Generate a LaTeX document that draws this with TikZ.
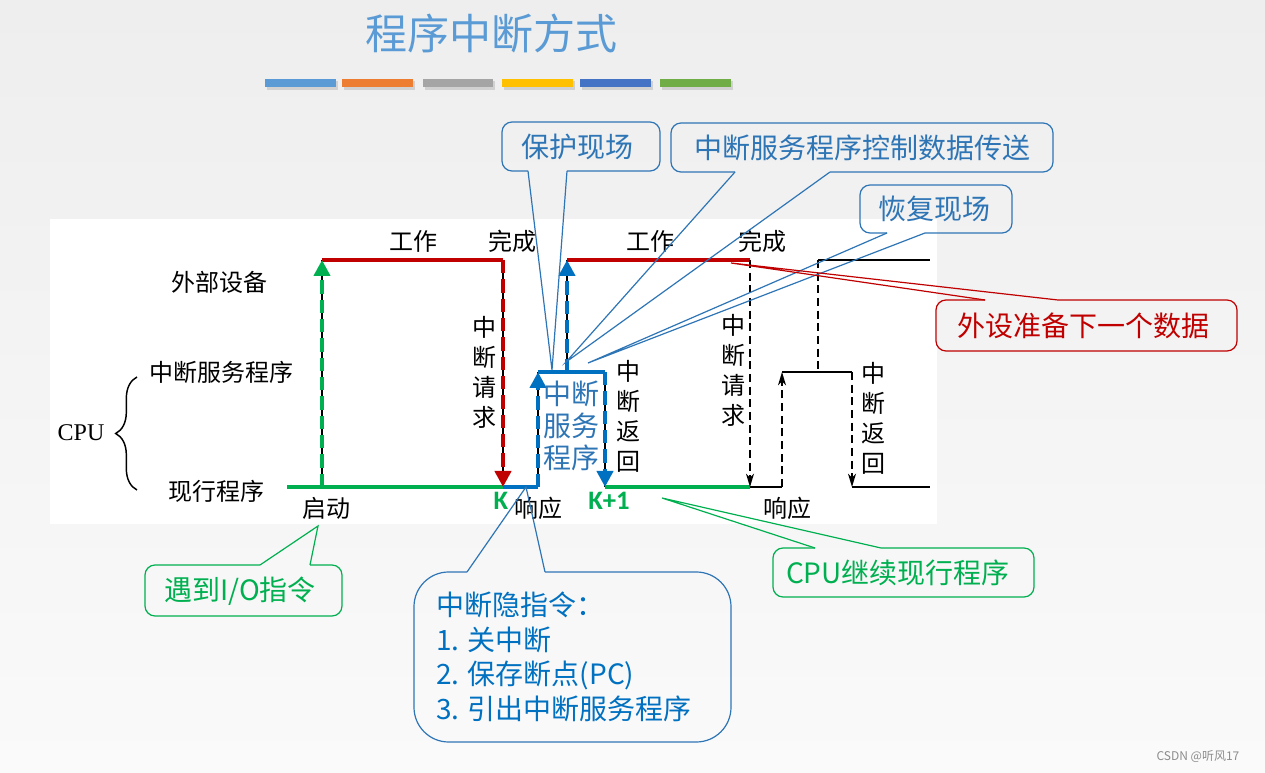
\documentclass[tikz,border=0pt]{standalone}
\usepackage{fontspec}
\setmainfont{Noto Sans CJK SC}
\newfontfamily\timesf{Liberation Serif}
\newfontfamily\calf{Carlito}
\usetikzlibrary{arrows.meta,decorations.pathreplacing}
\definecolor{tblue}{HTML}{5B9BD5}
\definecolor{dblue}{HTML}{0070C0}
\definecolor{cblue}{HTML}{2E75B6}
\definecolor{dred}{HTML}{C00000}
\definecolor{dgreen}{HTML}{00B050}
\definecolor{barA}{HTML}{5B9BD5}
\definecolor{barB}{HTML}{ED7D31}
\definecolor{barC}{HTML}{A5A5A5}
\definecolor{barD}{HTML}{FFC000}
\definecolor{barE}{HTML}{4472C4}
\definecolor{barF}{HTML}{70AD47}
\definecolor{bgtop}{HTML}{EEEEEE}
\definecolor{bgbot}{HTML}{FAFAFA}
\begin{document}
\begin{tikzpicture}[x=0.75pt,y=-0.75pt,
  lbl/.style={inner sep=0pt, font=\fontsize{18}{21}\selectfont},
  vlbl/.style={inner sep=0pt, align=center, font=\fontsize{18}{22.5}\selectfont},
  thk/.style={line width=3pt},
  thkdash/.style={line width=3.4pt, dash pattern=on 10pt off 4.5pt},
  blk/.style={line width=1.1pt, black},
  blkdash/.style={line width=1.1pt, black, dash pattern=on 6pt off 3.5pt},
  under/.style={line width=0.8pt, black},
  bigtip/.style={-{Triangle[width=12pt,length=12pt]}},
  smalltip/.style={-{Stealth[width=6pt,length=10pt,inset=3pt]}},
  co/.style={line width=0.9pt},
  cotext/.style={inner sep=0pt, font=\fontsize{21}{25}\selectfont}
]
\useasboundingbox (0,0) rectangle (1265,773);
\shade[top color=bgtop, bottom color=bgbot] (0,0) rectangle (1265,773);
\fill[white] (50,219) rectangle (937,524);

% title and bars
\node[inner sep=0pt, text=tblue, font=\fontsize{31.5}{36}\selectfont] (title) at (491,34) {程序中断方式};
\foreach \a/\b/\c in {265/336/barA, 342/413/barB, 423/493/barC, 502/573/barD, 580/651/barE, 660/731/barF}{
  \fill[black, opacity=0.12] (\a+2,81) rectangle (\b+2,90);
  \fill[\c] (\a,79) rectangle (\b,87);
}

% coordinates
\coordinate (gs) at (287,487);
\coordinate (st) at (322,487);
\coordinate (K) at (503,487);
\coordinate (wt1) at (322,260);
\coordinate (dn1) at (503,260);
\coordinate (rs1) at (538,487);
\coordinate (is1) at (538,372);
\coordinate (ie1) at (605,372);
\coordinate (K1) at (605,487);
\coordinate (up2) at (567,372);
\coordinate (wt2) at (567,260);
\coordinate (dn2) at (750,260);
\coordinate (g2e) at (750,487);
\coordinate (bb1) at (782,487);
\coordinate (bb1t) at (782,372);
\coordinate (bb2t) at (852,372);
\coordinate (bb2) at (852,487);
\coordinate (be) at (930,487);
\coordinate (tt1) at (818,260);
\coordinate (tt2) at (930,260);
\coordinate (tm) at (818,372);

% thin black lines underneath
\draw[under] (st) -- (wt1);
\draw[under] (dn1) -- (K);
\draw[under] (rs1) -- (is1);
\draw[under] (ie1) -- (K1);
\draw[under] (up2) -- (wt2);

% coloured lines
\draw[thk, dgreen] (gs) -- (K);
\draw[thk, dred] (wt1) -- (dn1);
\draw[thkdash, dgreen, bigtip] (st) -- (wt1);
\draw[thkdash, dred, bigtip] (dn1) -- (K);
\draw[thk, dblue] (K) -- (rs1);
\draw[thkdash, dblue, bigtip] (rs1) -- (is1);
\draw[thk, dblue] (is1) -- (ie1);
\draw[thkdash, dblue, bigtip] (ie1) -- (K1);
\draw[thkdash, dblue, bigtip] (up2) -- (wt2);
\draw[thk, dred] (wt2) -- (dn2);
\draw[thk, dgreen] (K1) -- (g2e);

% black lines
\draw[blkdash, smalltip] (dn2) -- (g2e);
\draw[blk] (g2e) -- (bb1);
\draw[blkdash, smalltip] (bb1) -- (bb1t);
\draw[blk] (bb1t) -- (bb2t);
\draw[blkdash, smalltip] (bb2t) -- (bb2);
\draw[blk] (bb2) -- (be);
\draw[blk] (tt1) -- (tt2);
\draw[blkdash] (tt1) -- (tm);

% labels
\node[lbl] (gz1) at (413,241) {工作};
\node[lbl] (wc1) at (512,241) {完成};
\node[lbl] (gz2) at (650,241) {工作};
\node[lbl] (wc2) at (762,241) {完成};
\node[lbl] (wbsb) at (219,282) {外部设备};
\node[lbl] (zdfw) at (221,372) {中断服务程序};
\node[lbl] (xxcx) at (216,491) {现行程序};
\node[lbl, font=\timesf\fontsize{18}{21}\selectfont] (cpu) at (81,433) {CPU};
\node[lbl] (qd) at (326,508) {启动};
\node[lbl] (xy1) at (538,508) {响应};
\node[lbl] (xy2) at (787,508) {响应};
\node[inner sep=0pt, text=dgreen, font=\calf\bfseries\fontsize{20}{24}\selectfont] (klab) at (501,501) {K};
\node[inner sep=0pt, text=dgreen, font=\calf\bfseries\fontsize{20}{24}\selectfont] (k1lab) at (609,501) {K+1};
\node[vlbl] (v1) at (484,372) {中\\断\\请\\求};
\node[vlbl] (v2) at (628,416) {中\\断\\返\\回};
\node[vlbl] (v3) at (733,370) {中\\断\\请\\求};
\node[vlbl] (v4) at (873,418) {中\\断\\返\\回};
\node[inner sep=0pt, align=center, text=cblue, font=\fontsize{21}{24}\selectfont] (zdb) at (571,426) {中断\\服务\\程序};

% brace
\draw[decorate, decoration={brace, amplitude=16pt}, line width=1.1pt] (137,490) -- (137,377);

% callout tips
\coordinate (tipA) at (552,370);
\coordinate (tipB) at (566,362);
\coordinate (tipC) at (588,363);
\coordinate (tipD) at (731,263);
\coordinate (tipE) at (318,526);
\coordinate (tipF) at (662,498);
\coordinate (tipG) at (526,487);

% callout 保护现场
\draw[co, cblue, rounded corners=7.5pt] (567,171) -- (660,171) -- (660,122) -- (502,122) -- (502,171) -- (528,171);
\draw[co, cblue] (528,171) -- (tipA) -- (567,171);
\node[cotext, text=cblue] (t1) at (577,147) {保护现场};
% callout 中断服务程序控制数据传送
\draw[co, cblue, rounded corners=7.5pt] (830,172) -- (1053,172) -- (1053,123) -- (671,123) -- (671,172) -- (735,172);
\draw[co, cblue] (735,172) -- (tipB) -- (830,172);
\node[cotext, text=cblue] (t2) at (862,148) {中断服务程序控制数据传送};
% callout 恢复现场
\draw[co, cblue, rounded corners=7.5pt] (925,233) -- (1012,233) -- (1012,185) -- (860,185) -- (860,233) -- (887,233);
\draw[co, cblue] (887,233) -- (tipC) -- (925,233);
\node[cotext, text=cblue] (t3) at (934,209) {恢复现场};
% callout 外设准备下一个数据
\draw[co, dred, rounded corners=7.5pt] (1058,300) -- (1237,300) -- (1237,351) -- (936,351) -- (936,300) -- (985,300);
\draw[co, dred] (985,300) -- (tipD) -- (1058,300);
\node[cotext, text=dred] (t4) at (1083,326) {外设准备下一个数据};
% callout 遇到I/O指令
\draw[co, dgreen, rounded corners=7.5pt] (310,565) -- (342,565) -- (342,616) -- (145,616) -- (145,565) -- (260,565);
\draw[co, dgreen] (260,565) -- (tipE) -- (310,565);
\node[cotext, text=dgreen] (t5) at (240,591) {遇到I/O指令};
% callout CPU继续现行程序
\draw[co, dgreen, rounded corners=7.5pt] (881,548) -- (1034,548) -- (1034,597) -- (773,597) -- (773,548) -- (815,548);
\draw[co, dgreen] (815,548) -- (tipF) -- (881,548);
\node[cotext, text=dgreen] (t6) at (898,573) {CPU继续现行程序};
% callout 中断隐指令
\draw[co, cblue, rounded corners=26pt] (545,572) -- (731,572) -- (731,742) -- (414,742) -- (414,572) -- (467,572);
\draw[co, cblue] (467,572) -- (tipG) -- (545,572);
\node[inner sep=0pt, anchor=west, align=left, text=dblue, font=\fontsize{21}{26}\selectfont] (t7) at (436,657) {中断隐指令：\\1. 关中断\\2. 保存断点(PC)\\3. 引出中断服务程序};

% signature
\node[inner sep=0pt, text=black!45, font=\fontsize{9}{11}\selectfont] (sig) at (1198,757) {CSDN @听风17};
\end{tikzpicture}
\end{document}
